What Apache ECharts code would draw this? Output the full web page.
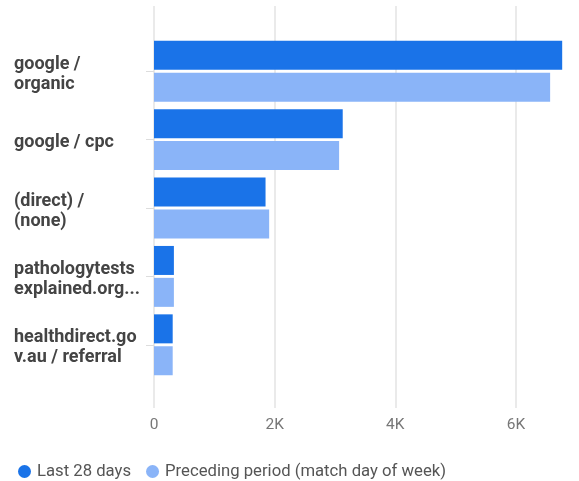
<!DOCTYPE html>
<html>
<head>
<meta charset="utf-8">
<script src="https://cdn.jsdelivr.net/npm/echarts@6/dist/echarts.min.js"></script>
<style>
  html, body { margin: 0; padding: 0; background: #fff; }
  #chart { width: 579px; height: 481px; }
</style>
</head>
<body>
<div id="chart"></div>
<script>
// 来源渠道
const sources = [
  "google /\norganic",
  "google / cpc",
  "(direct) /\n(none)",
  "pathologytests\nexplained.org...",
  "healthdirect.go\nv.au / referral",
];
const last28 = [6770, 3130, 1850, 330, 310];
const preceding = [6570, 3070, 1910, 330, 310];
const seriesNames = ["Last 28 days", "Preceding period (match day of week)"];
const xTicks = [0, 2000, 4000, 6000];

const chart = echarts.init(document.getElementById("chart"));

const fmtK = (v) => (v === 0 ? "0" : v / 1000 + "K");

chart.setOption({
  backgroundColor: "#fff",
  animation: false,
  textStyle: { fontFamily: "Roboto, sans-serif" },
  legend: {
    left: 13,
    top: 458,
    icon: "circle",
    itemWidth: 13,
    itemHeight: 13,
    itemGap: 15,
    textStyle: { color: "#555", fontSize: 16.7, padding: [0, 0, 0, 1] },
    data: seriesNames,
  },
  grid: [
    // 柱状图
    { left: 154, right: 15, top: 37, height: 342 },
    // 网格线和刻度
    { left: 154, right: 579 - 516, top: 6, bottom: 481 - 408 },
  ],
  xAxis: [
    {
      gridIndex: 0,
      type: "value",
      min: 0,
      max: 6800,
      show: false,
    },
    {
      gridIndex: 1,
      type: "value",
      min: xTicks[0],
      max: xTicks[xTicks.length - 1],
      interval: 2000,
      axisLine: { show: false },
      axisTick: { show: false },
      splitLine: { show: true, lineStyle: { color: "#e3e3e3", width: 1.5 } },
      axisLabel: { color: "#777", fontSize: 15.5, margin: 9, formatter: fmtK },
    },
  ],
  yAxis: [
    {
      gridIndex: 0,
      type: "category",
      inverse: true,
      data: sources,
      axisLine: { show: false },
      axisTick: {
        show: true,
        alignWithLabel: true,
        length: 8,
        lineStyle: { color: "#ddd" },
      },
      axisLabel: {
        align: "left",
        margin: 140,
        color: "#444",
        fontSize: 18,
        fontWeight: "bold",
        lineHeight: 20,
        // 顶部加一行空白，让文字略微下移
        formatter: (v) => "{s| }\n" + v,
        rich: { s: { fontSize: 1, lineHeight: 6 } },
      },
    },
    {
      gridIndex: 1,
      type: "category",
      data: [""],
      show: false,
    },
  ],
  series: [
    {
      name: seriesNames[0],
      type: "bar",
      xAxisIndex: 0,
      yAxisIndex: 0,
      data: last28,
      barWidth: 29,
      barGap: "10%",
      itemStyle: { color: "#1a73e8" },
    },
    {
      name: seriesNames[1],
      type: "bar",
      xAxisIndex: 0,
      yAxisIndex: 0,
      data: preceding,
      barWidth: 29,
      barGap: "10%",
      itemStyle: { color: "#8ab4f8" },
    },
  ],
});
</script>
</body>
</html>
